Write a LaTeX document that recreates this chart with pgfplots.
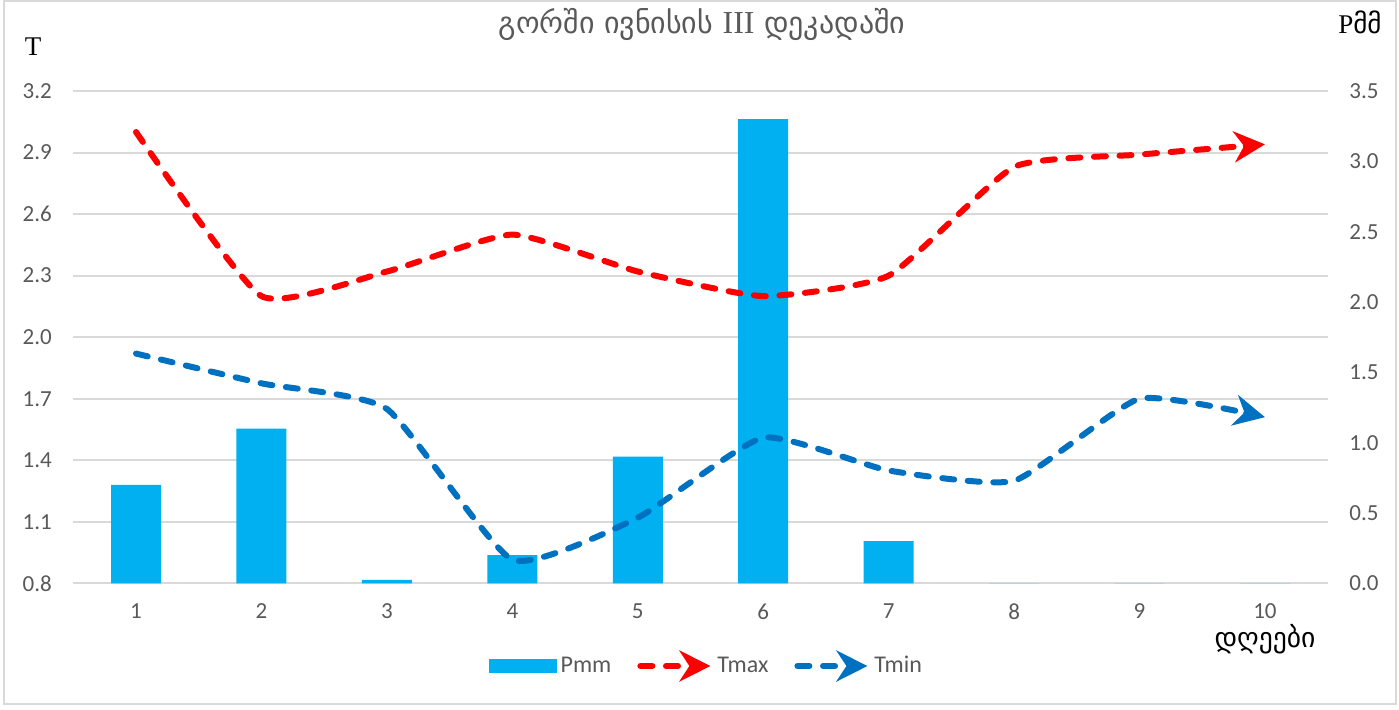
\documentclass[border=0pt]{standalone}
\usepackage{fontspec}
\setmainfont{Carlito}
\newfontfamily\geo{DejaVu Sans}
\newfontfamily\serif{Liberation Serif}
\usepackage{pgfplots}
\usepackage{pgfplotstable}
\pgfplotsset{compat=1.18}
\usetikzlibrary{arrows.meta}
\definecolor{barblue}{HTML}{00B0F0}
\definecolor{tmaxred}{HTML}{FF0000}
\definecolor{tminblue}{HTML}{0070C0}
\definecolor{gridgray}{HTML}{D9D9D9}
\definecolor{ticktext}{HTML}{595959}

\pgfplotstableread{
day Pmm
1 0.7
2 1.1
3 0.025
4 0.2
5 0.9
6 3.3
7 0.3
8 0
9 0
10 0
}\Pdata

\pgfplotstableread{
day Tmax Tmin
1 3.0 1.92
2 2.2 1.775
3 2.32 1.65
4 2.5 0.915
5 2.32 1.12
6 2.2 1.51
7 2.3 1.35
8 2.83 1.30
9 2.89 1.70
10 2.94 1.61
}\Tdata

\tikzset{
  linestyle/.style={line width=3pt, dash pattern=on 6pt off 6.8pt, line cap=round,
    -{Stealth[length=15.5pt, width=15.5pt, inset=5pt]}},
}
\pgfplotsset{
  base/.style={
    at={(36.65pt,-291.65pt)}, anchor=south west,
    scale only axis, width=627.2pt, height=246.15pt,
    xmin=0.5, xmax=10.5,
    major tick length=0pt,
    tick label style={font=\fontsize{11.5}{13}\selectfont, text=ticktext},
    /pgf/number format/assume math mode=true,
  },
}

\begin{document}
\begin{tikzpicture}
\path[use as bounding box] (0,0) rectangle (699.5pt,-354.5pt);
\draw[gridgray, line width=1pt] (2pt,-0.5pt) rectangle (698pt,-352pt);

% left axis: grid and ticks
\begin{axis}[base,
  ymin=0.8, ymax=3.2,
  axis line style={draw=none},
  tick pos=left,
  xtick={1,2,3,4,5,6,7,8,9,10},
  xticklabels={1,2,3,4,5,6,7,8,9,10},
  ytick={0.8,1.1,1.4,1.7,2.0,2.3,2.6,2.9,3.2},
  yticklabels={0.8,1.1,1.4,1.7,2.0,2.3,2.6,2.9,3.2},
  ymajorgrids, grid style={gridgray, line width=1pt},
  xticklabel style={yshift=-6.7pt},
  yticklabel style={xshift=-7.2pt},
]
\addplot[draw=none, forget plot] coordinates {(1,1)};
\end{axis}

% right axis: bars
\begin{axis}[base,
  ymin=0, ymax=3.5,
  axis x line=none,
  axis y line*=right,
  axis line style={draw=none},
  ytick={0,0.5,1.0,1.5,2.0,2.5,3.0,3.5},
  yticklabels={0.0,0.5,1.0,1.5,2.0,2.5,3.0,3.5},
  yticklabel style={xshift=7.3pt},
]
\addplot[ybar, bar width=25pt, fill=barblue, draw=none] table[x=day, y=Pmm]{\Pdata};
\end{axis}

% lines on left scale
\begin{axis}[base,
  ymin=0.8, ymax=3.2,
  hide axis,
  legend columns=-1,
  legend style={at={(0.5055,-0.168)}, anchor=center, draw=none, fill=none,
    font=\fontsize{12}{14}\selectfont, text=ticktext,
    /tikz/every even column/.append style={column sep=11pt}},
]
\addlegendimage{legend image code/.code={\fill[barblue] (0pt,-3.4pt) rectangle (33.5pt,3.4pt);}}
\addplot[tmaxred, linestyle, smooth, tension=0.3,
  legend image code/.code={\draw[tmaxred, linestyle] (0pt,0pt) -- (35pt,0pt);}]
  table[x=day, y=Tmax]{\Tdata};
\addplot[tminblue, linestyle, smooth, tension=0.3,
  legend image code/.code={\draw[tminblue, linestyle] (0pt,0pt) -- (35pt,0pt);}]
  table[x=day, y=Tmin]{\Tdata};
\legend{Pmm,Tmax,Tmin}
\end{axis}

\node[anchor=base, text=ticktext] at (351pt,-16.5pt)
  {\fontsize{15}{17}\selectfont\geo გორში ივნისის {\serif\fontsize{16}{18}\selectfont III} დეკადაში};
\node[anchor=base, inner sep=0pt] at (16.5pt,-27.5pt) {\fontsize{13.5}{15}\selectfont\serif T};
\node[anchor=base east, inner sep=0pt] at (691pt,-16.5pt) {\fontsize{13.5}{15}\selectfont{\serif P}{\geo მმ}};
\node[anchor=base, inner sep=0pt] at (632.5pt,-323.5pt) {\fontsize{13.8}{15}\selectfont\geo დღეები};
\end{tikzpicture}
\end{document}
